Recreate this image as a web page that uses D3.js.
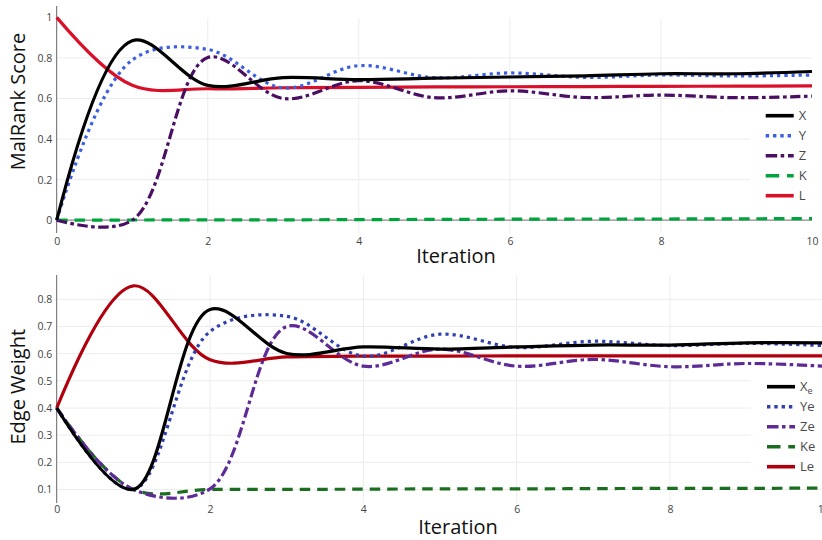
<!DOCTYPE html>
<html>
<head>
<meta charset="utf-8">
<script src="https://cdn.jsdelivr.net/npm/d3@7"></script>
<style>
  html, body { margin: 0; padding: 0; background: #fff; }
  svg { display: block; font-family: "Open Sans", "Noto Sans", sans-serif; }
</style>
</head>
<body>
<svg id="chart" width="822" height="540"></svg>
<script>
// ---- data ----------------------------------------------------------------
const iterations = [0, 1, 2, 3, 4, 5, 6, 7, 8, 9, 10];

// MalRank score per node
const scoreX = [0, 0.885, 0.665, 0.703, 0.693, 0.700, 0.706, 0.712, 0.722, 0.722, 0.733];
const scoreY = [0, 0.790, 0.842, 0.652, 0.762, 0.702, 0.726, 0.704, 0.716, 0.711, 0.716];
const scoreZ = [0, 0.000, 0.802, 0.600, 0.688, 0.604, 0.638, 0.605, 0.617, 0.604, 0.612];
const scoreK = [0, 0.001, 0.002, 0.002, 0.003, 0.004, 0.005, 0.006, 0.006, 0.007, 0.008];
const scoreL = [1, 0.665, 0.648, 0.653, 0.655, 0.657, 0.658, 0.659, 0.660, 0.661, 0.662];

// edge weight per edge
const weightXe = [0.4, 0.1, 0.763, 0.601, 0.625, 0.617, 0.625, 0.632, 0.632, 0.640, 0.640];
const weightYe = [0.4, 0.1, 0.682, 0.738, 0.591, 0.672, 0.623, 0.646, 0.630, 0.638, 0.630];
const weightZe = [0.4, 0.1, 0.102, 0.700, 0.554, 0.617, 0.554, 0.579, 0.552, 0.564, 0.554];
const weightKe = [0.4, 0.1, 0.100, 0.100, 0.101, 0.102, 0.102, 0.103, 0.104, 0.104, 0.105];
const weightLe = [0.4, 0.85, 0.578, 0.588, 0.591, 0.591, 0.592, 0.592, 0.592, 0.592, 0.592];

const xTicks = [0, 2, 4, 6, 8, 10];
const scoreTicks = [0, 0.2, 0.4, 0.6, 0.8, 1];
const weightTicks = [0.1, 0.2, 0.3, 0.4, 0.5, 0.6, 0.7, 0.8];

const scoreNames = ["X", "Y", "Z", "K", "L"];
const weightNames = ["Xe", "Ye", "Ze", "Ke", "Le"];

// ---- styles ----------------------------------------------------------------
const dashStyles = {
  solid: null,
  dot: "3.2,4",
  dashdot: "10.5,3.5,3.5,3.5",
  dash: "10.5,7"
};
const legendDash = {
  solid: null,
  dot: "3.4,3.9",
  dashdot: "11.5,3.5,3.5,3.8",
  dash: "13.5,7.8"
};

const topSeries = [
  { name: scoreNames[0], values: scoreX, color: "#000000", dash: "solid" },
  { name: scoreNames[1], values: scoreY, color: "#3b5fe0", dash: "dot" },
  { name: scoreNames[2], values: scoreZ, color: "#4a0f63", dash: "dashdot" },
  { name: scoreNames[3], values: scoreK, color: "#00a33c", dash: "dash" },
  { name: scoreNames[4], values: scoreL, color: "#d9102a", dash: "solid" }
];
const bottomSeries = [
  { name: weightNames[0], values: weightXe, color: "#000000", dash: "solid", sub: true },
  { name: weightNames[1], values: weightYe, color: "#3040b0", dash: "dot" },
  { name: weightNames[2], values: weightZe, color: "#5e2a96", dash: "dashdot" },
  { name: weightNames[3], values: weightKe, color: "#1b6e1f", dash: "dash" },
  { name: weightNames[4], values: weightLe, color: "#b0000e", dash: "solid" }
];

// ---- smoothed spline curve (centripetal tangents, quadratic end segments) ----
function makeTangent(p0, p1, p2, s) {
  const d1x = p0[0] - p1[0], d1y = p0[1] - p1[1];
  const d2x = p2[0] - p1[0], d2y = p2[1] - p1[1];
  const d1a = Math.pow(d1x * d1x + d1y * d1y, 0.25);
  const d2a = Math.pow(d2x * d2x + d2y * d2y, 0.25);
  const numx = (d2a * d2a * d1x - d1a * d1a * d2x) * s;
  const numy = (d2a * d2a * d1y - d1a * d1a * d2y) * s;
  const den1 = 3 * d2a * (d1a + d2a);
  const den2 = 3 * d1a * (d1a + d2a);
  return [
    [p1[0] + (den1 && numx / den1), p1[1] + (den1 && numy / den1)],
    [p1[0] - (den2 && numx / den2), p1[1] - (den2 && numy / den2)]
  ];
}
function SmoothSpline(context) { this._context = context; }
SmoothSpline.prototype = {
  areaStart() {}, areaEnd() {},
  lineStart() { this._pts = []; },
  point(x, y) { this._pts.push([+x, +y]); },
  lineEnd() {
    const p = this._pts, c = this._context, n = p.length;
    if (!n) return;
    c.moveTo(p[0][0], p[0][1]);
    if (n < 3) { for (let i = 1; i < n; i++) c.lineTo(p[i][0], p[i][1]); return; }
    const t = [];
    for (let i = 1; i < n - 1; i++) t.push(makeTangent(p[i - 1], p[i], p[i + 1], 1));
    c.quadraticCurveTo(t[0][0][0], t[0][0][1], p[1][0], p[1][1]);
    for (let i = 2; i < n - 1; i++) {
      c.bezierCurveTo(t[i - 2][1][0], t[i - 2][1][1], t[i - 1][0][0], t[i - 1][0][1], p[i][0], p[i][1]);
    }
    c.quadraticCurveTo(t[n - 3][1][0], t[n - 3][1][1], p[n - 1][0], p[n - 1][1]);
  }
};
const curveSmooth = ctx => new SmoothSpline(ctx);

// ---- drawing ----------------------------------------------------------------
const svg = d3.select("#chart");
const tickColor = "#444";
const gridColor = "#ececec";

function panel(cfg) {
  const x = d3.scaleLinear().domain([0, 10]).range([cfg.left, cfg.right]);
  const y = d3.scaleLinear().domain(cfg.yDomain).range([cfg.bottom, cfg.top]);
  const g = svg.append("g");

  // horizontal grid (the topmost tick of the score panel carries no grid line)
  g.append("g").selectAll("line").data(cfg.yTicks.filter(v => v !== 0 && v !== cfg.noGridAt))
    .join("line")
    .attr("x1", cfg.left).attr("x2", cfg.right)
    .attr("y1", d => y(d)).attr("y2", d => y(d))
    .attr("stroke", gridColor).attr("stroke-width", 1);
  // vertical grid
  g.append("g").selectAll("line").data(xTicks.filter(v => v > 0 && v < 10))
    .join("line")
    .attr("x1", d => x(d)).attr("x2", d => x(d))
    .attr("y1", cfg.gridTop).attr("y2", cfg.bottom)
    .attr("stroke", gridColor).attr("stroke-width", 1);

  // zero line
  if (cfg.zeroLine) {
    g.append("line")
      .attr("x1", cfg.left).attr("x2", cfg.right)
      .attr("y1", y(0)).attr("y2", y(0))
      .attr("stroke", "#8a8a8a").attr("stroke-width", 1.3);
  }

  // y axis
  const yAxis = g.append("g")
    .attr("transform", `translate(${cfg.left},0)`)
    .call(d3.axisLeft(y).tickValues(cfg.yTicks).tickSize(0).tickPadding(4.5)
      .tickFormat(d => String(d)));
  yAxis.select(".domain").remove();
  yAxis.selectAll("text").attr("fill", tickColor)
    .style("font-size", "10.5px").style("font-family", "'Open Sans', sans-serif");
  g.append("line")
    .attr("x1", cfg.left).attr("x2", cfg.left)
    .attr("y1", cfg.top).attr("y2", cfg.bottom)
    .attr("stroke", "#666").attr("stroke-width", 1);

  // x axis
  const xAxis = g.append("g")
    .attr("transform", `translate(0,${cfg.bottom})`)
    .call(d3.axisBottom(x).tickValues(xTicks).tickSize(0).tickPadding(cfg.xPad)
      .tickFormat(d => String(d)));
  xAxis.select(".domain").remove();
  xAxis.selectAll("text").attr("fill", tickColor)
    .style("font-size", "10.5px").style("font-family", "'Open Sans', sans-serif");

  // titles
  g.append("text")
    .attr("x", cfg.xTitleX).attr("y", cfg.xTitleY)
    .attr("text-anchor", "middle")
    .style("font-size", "20px").attr("fill", "#111")
    .text("Iteration");
  g.append("text")
    .attr("transform", `translate(25,${cfg.yTitleCenter}) rotate(-90)`)
    .attr("text-anchor", "middle")
    .style("font-size", "20px").attr("fill", "#111")
    .text(cfg.yTitle);

  // series
  const line = d3.line()
    .x((d, i) => x(iterations[i]))
    .y(d => y(d))
    .curve(curveSmooth);
  g.append("g").selectAll("path").data(cfg.drawOrder.map(i => cfg.series[i]))
    .join("path")
    .attr("d", d => line(d.values))
    .attr("fill", "none")
    .attr("stroke", d => d.color)
    .attr("stroke-width", 3.2)
    .attr("stroke-dasharray", d => dashStyles[d.dash])
    .attr("stroke-linejoin", "round");

  // legend
  const lg = g.append("g");
  lg.append("rect")
    .attr("x", cfg.legendX - 16).attr("y", cfg.legendY - 12)
    .attr("width", 100).attr("height", 20 * 4 + 24)
    .attr("fill", "#fff");
  const items = lg.selectAll("g.item").data(cfg.series).join("g")
    .attr("class", "item")
    .attr("transform", (d, i) => `translate(${cfg.legendX},${cfg.legendY + i * 20})`);
  items.append("line")
    .attr("x1", 0).attr("x2", 28).attr("y1", 0).attr("y2", 0)
    .attr("stroke", d => d.color).attr("stroke-width", 3.6)
    .attr("stroke-dasharray", d => legendDash[d.dash]);
  const txt = items.append("text")
    .attr("x", 33).attr("y", 0).attr("dy", "0.36em")
    .attr("fill", "#4a4a4a").style("font-size", "13px");
  txt.each(function (d) {
    const t = d3.select(this);
    if (d.sub) {
      t.append("tspan").text(d.name[0]);
      t.append("tspan").attr("dy", "0.3em").style("font-size", "9px").text(d.name.slice(1));
    } else {
      t.text(d.name);
    }
  });
}

panel({
  left: 56.7, right: 812, top: 6, bottom: 233, gridTop: 18,
  yDomain: [-0.063, 1.056], yTicks: scoreTicks, noGridAt: 1,
  zeroLine: true, xPad: 4.5, xTitleX: 456, xTitleY: 263,
  yTitle: "MalRank Score", yTitleCenter: 101.5,
  series: topSeries, drawOrder: [3, 4, 2, 1, 0],
  legendX: 765.7, legendY: 115.7
});

panel({
  left: 56.7, right: 823.3, top: 275, bottom: 503, gridTop: 275,
  yDomain: [0.05, 0.89], yTicks: weightTicks, noGridAt: null,
  zeroLine: false, xPad: 2.3, xTitleX: 458, xTitleY: 534,
  yTitle: "Edge Weight", yTitleCenter: 386.7,
  series: bottomSeries, drawOrder: [3, 4, 2, 1, 0],
  legendX: 767, legendY: 386.7
});
</script>
</body>
</html>
